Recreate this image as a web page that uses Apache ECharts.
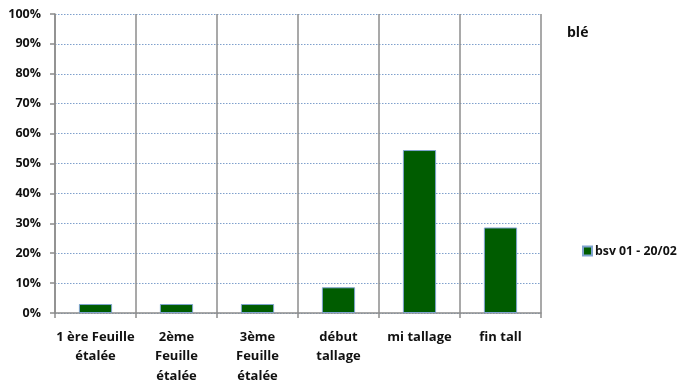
<!DOCTYPE html>
<html><head><meta charset="utf-8">
<script src="https://cdn.jsdelivr.net/npm/echarts@6/dist/echarts.min.js"></script>
<style>html,body{margin:0;padding:0;background:#fff}#c{width:686px;height:380px}</style>
</head><body><div id="c"></div>
<script>
const categories = ["1 ère Feuille\nétalée", "2ème\nFeuille\nétalée", "3ème\nFeuille\nétalée", "début\ntallage", "mi tallage", "fin tall"];
const seriesName = "bsv 01 - 20/02";
const values = [3.0, 3.0, 3.0, 8.6, 54.5, 28.6];
const yTicks = [0, 10, 20, 30, 40, 50, 60, 70, 80, 90, 100];

const font = "'Open Sans', Lato, sans-serif";
const chart = echarts.init(document.getElementById('c'));
chart.setOption({
  animation: false,
  backgroundColor: '#fff',
  title: {
    text: 'blé', left: 562, top: 21,
    textStyle: { fontFamily: font, fontWeight: 'bold', fontSize: 14, color: '#111' }
  },
  legend: {
    data: [seriesName], left: 577, top: 240, orient: 'vertical',
    itemWidth: 9, itemHeight: 9, itemGap: 4,
    icon: 'rect',
    textStyle: { fontFamily: font, fontWeight: 'bold', fontSize: 12.3, color: '#111', padding: [0,0,0,-2] }
  },
  grid: { left: 55, right: 145, top: 14, bottom: 67, containLabel: false, outerBoundsMode: 'none' },
  xAxis: {
    type: 'category', data: categories,
    axisLine: { lineStyle: { color: '#8c8c8c', width: 1.5 } },
    axisTick: { show: true, length: 5, lineStyle: { color: '#8c8c8c', width: 1.5 } },
    splitLine: { show: true, lineStyle: { color: '#8c8c8c', width: 1.5 } },
    axisLabel: {
      interval: 0, margin: 14, lineHeight: 19.7,
      fontFamily: font, fontWeight: 'bold', fontSize: 13, color: '#111'
    }
  },
  yAxis: {
    type: 'value', min: 0, max: 100, interval: 10,
    axisLine: { show: true, lineStyle: { color: '#8c8c8c', width: 1.5 } },
    axisTick: { show: true, length: 5, lineStyle: { color: '#8c8c8c', width: 1.5 } },
    splitLine: { show: true, lineStyle: { color: '#7fa0cc', width: 1, type: [1.5, 1.5] } },
    axisLabel: {
      margin: 14, fontFamily: font, fontWeight: 'bold', fontSize: 12.5, color: '#111',
      formatter: v => yTicks.includes(v) ? v + '%' : ''
    }
  },
  series: [{
    name: seriesName, type: 'bar', data: values, barWidth: '41%',
    itemStyle: { color: '#005c00', borderColor: '#7fa3cf', borderWidth: 1 }
  }]
});
</script></body></html>
